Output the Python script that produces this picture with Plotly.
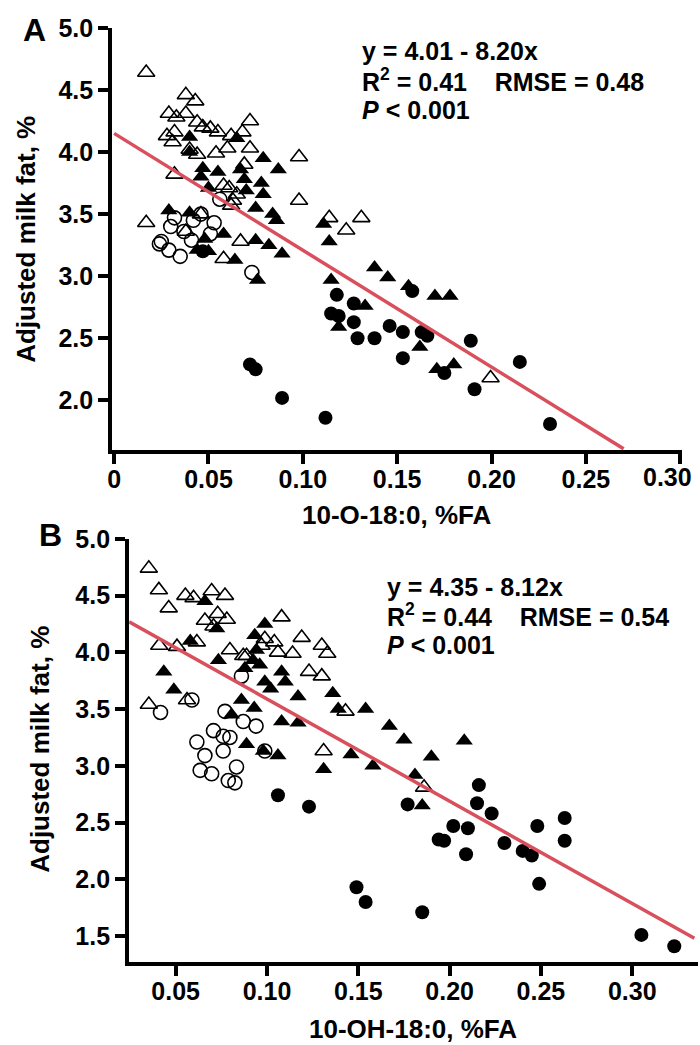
import plotly.graph_objects as go

# ---------------- Panel A data (10-O-18:0, %FA vs adjusted milk fat) ----------------
a_open_tri_x = [0.017, 0.038, 0.043, 0.029, 0.033, 0.038, 0.044, 0.047, 0.051, 0.055, 0.028, 0.031, 0.032,
                0.072, 0.062, 0.068, 0.072, 0.060, 0.054, 0.040, 0.044, 0.098, 0.032, 0.069, 0.061, 0.098,
                0.017, 0.114, 0.123, 0.131, 0.067, 0.058, 0.063, 0.046, 0.038, 0.1995, 0.058, 0.065, 0.062]
a_open_tri_y = [4.64, 4.46, 4.41, 4.31, 4.28, 4.31, 4.24, 4.20, 4.19, 4.16, 4.13, 4.08, 4.16,
                4.25, 4.13, 4.16, 4.03, 4.03, 3.99, 4.02, 3.98, 3.96, 3.82, 3.90, 3.71, 3.61,
                3.43, 3.47, 3.37, 3.47, 3.28, 3.14, 3.61, 3.50, 3.36, 2.18, 3.73, 3.66, 3.57]

a_open_cir_x = [0.032, 0.046, 0.053, 0.030, 0.037, 0.025, 0.029, 0.035, 0.041, 0.051, 0.024, 0.073, 0.056, 0.042]
a_open_cir_y = [3.47, 3.50, 3.43, 3.40, 3.36, 3.28, 3.21, 3.16, 3.29, 3.34, 3.26, 3.03, 3.62, 3.45]

a_fill_tri_x = [0.040, 0.040, 0.065, 0.079, 0.087, 0.047, 0.046, 0.055, 0.067, 0.069, 0.078, 0.070, 0.079,
                0.050, 0.075, 0.084, 0.086, 0.029, 0.040, 0.048, 0.058, 0.075, 0.082, 0.089, 0.064, 0.044,
                0.050, 0.076, 0.111, 0.114, 0.115, 0.138, 0.145, 0.156, 0.170, 0.178, 0.133, 0.119, 0.162,
                0.171, 0.180]
a_fill_tri_y = [4.12, 4.00, 4.11, 3.95, 3.86, 3.87, 3.80, 3.84, 3.86, 3.78, 3.75, 3.69, 3.66,
                3.71, 3.55, 3.50, 3.45, 3.53, 3.51, 3.30, 3.34, 3.29, 3.25, 3.18, 3.13, 3.21,
                3.20, 2.97, 3.42, 3.28, 2.97, 3.07, 2.99, 2.92, 2.84, 2.84, 2.76, 2.59, 2.43,
                2.25, 2.29]

a_fill_cir_x = [0.118, 0.127, 0.119, 0.127, 0.129, 0.138, 0.146, 0.153, 0.163, 0.166, 0.153, 0.189, 0.215,
                0.191, 0.231, 0.158, 0.175, 0.072, 0.075, 0.089, 0.112, 0.115, 0.047]
a_fill_cir_y = [2.85, 2.78, 2.68, 2.63, 2.50, 2.50, 2.60, 2.55, 2.55, 2.52, 2.34, 2.48, 2.31,
                2.09, 1.81, 2.88, 2.22, 2.29, 2.25, 2.02, 1.86, 2.70, 3.20]

a_fit_x = [0.0, 0.270]
a_fit_y = [4.15, 1.61]

# the last tick label of panel A is nudged left in the original, so it is drawn separately
a_xticks = [0, 0.05, 0.10, 0.15, 0.20, 0.25, 0.30]
a_xticklabels = ["0", "0.05", "0.10", "0.15", "0.20", "0.25", ""]
a_last_xticklabel = "0.30"
a_yticks = [2.0, 2.5, 3.0, 3.5, 4.0, 4.5, 5.0]
a_yticklabels = ["2.0", "2.5", "3.0", "3.5", "4.0", "4.5", "5.0"]

# ---------------- Panel B data (10-OH-18:0, %FA vs adjusted milk fat) ----------------
b_open_tri_x = [0.0353, 0.0408, 0.0462, 0.0553, 0.0598, 0.0697, 0.077, 0.066, 0.073, 0.078, 0.0707, 0.108,
                0.041, 0.0507, 0.0616, 0.0797, 0.0888, 0.0988, 0.104, 0.106, 0.114, 0.119, 0.130, 0.133,
                0.123, 0.130, 0.0353, 0.0562, 0.143, 0.131, 0.097, 0.087, 0.186]
b_open_tri_y = [4.74, 4.55, 4.39, 4.50, 4.48, 4.54, 4.50, 4.28, 4.34, 4.29, 4.23, 4.31,
                4.06, 4.05, 4.09, 4.02, 3.97, 4.12, 4.09, 4.00, 3.99, 4.13, 4.06, 3.99,
                3.83, 3.79, 3.54, 3.58, 3.48, 3.13, 4.06, 3.97, 2.81]

b_open_cir_x = [0.0417, 0.0589, 0.077, 0.087, 0.094, 0.0707, 0.076, 0.0797, 0.0616, 0.076, 0.066, 0.0634,
                0.0697, 0.0833, 0.0788, 0.0824, 0.0988, 0.086]
b_open_cir_y = [3.47, 3.58, 3.48, 3.39, 3.35, 3.31, 3.26, 3.25, 3.21, 3.13, 3.09, 2.96,
                2.93, 2.99, 2.87, 2.85, 3.13, 3.79]

b_fill_tri_x = [0.066, 0.0988, 0.0933, 0.058, 0.0725, 0.0734, 0.0942, 0.0924, 0.096, 0.0879, 0.108, 0.0988,
                0.110, 0.102, 0.117, 0.136, 0.0435, 0.049, 0.086, 0.093, 0.0806, 0.139, 0.154, 0.108,
                0.117, 0.0888, 0.098, 0.106, 0.146, 0.131, 0.158, 0.167, 0.175, 0.208, 0.190, 0.181,
                0.185]
b_fill_tri_y = [4.45, 4.25, 4.15, 4.10, 4.21, 3.93, 4.02, 3.93, 3.89, 3.86, 3.83, 3.74,
                3.74, 3.68, 3.61, 3.64, 3.83, 3.67, 3.58, 3.51, 3.45, 3.50, 3.50, 3.39,
                3.38, 3.19, 3.13, 3.09, 3.10, 2.97, 3.00, 3.35, 3.23, 3.22, 3.08, 2.92,
                2.65]

b_fill_cir_x = [0.106, 0.123, 0.177, 0.216, 0.215, 0.223, 0.202, 0.210, 0.194, 0.197, 0.209, 0.230, 0.248,
                0.240, 0.245, 0.149, 0.154, 0.185, 0.249, 0.263, 0.263, 0.305, 0.323]
b_fill_cir_y = [2.74, 2.64, 2.66, 2.83, 2.67, 2.58, 2.47, 2.45, 2.35, 2.34, 2.22, 2.32, 2.47,
                2.25, 2.21, 1.93, 1.80, 1.71, 1.96, 2.54, 2.34, 1.51, 1.41]

b_fit_x = [0.0245, 0.334]
b_fit_y = [4.27, 1.48]

b_xticks = [0.05, 0.10, 0.15, 0.20, 0.25, 0.30]
b_xticklabels = ["0.05", "0.10", "0.15", "0.20", "0.25", "0.30"]
b_yticks = [1.5, 2.0, 2.5, 3.0, 3.5, 4.0, 4.5, 5.0]
b_yticklabels = ["1.5", "2.0", "2.5", "3.0", "3.5", "4.0", "4.5", "5.0"]

a_stats = ["y = 4.01 - 8.20x", "R<sup>2</sup> = 0.41\u00a0\u00a0\u00a0 RMSE = 0.48", "<i>P</i> < 0.001"]
b_stats = ["y = 4.35 - 8.12x", "R<sup>2</sup> = 0.44\u00a0\u00a0\u00a0 RMSE = 0.54", "<i>P</i> < 0.001"]

# ---------------- Figure ----------------
W, H = 700, 1045
FONT = "Liberation Sans, Arial, sans-serif"
RED = "#d94f5c"

fig = go.Figure()


def add_panel(fig, xa, ya, otx, oty, ocx, ocy, ftx, fty, fcx, fcy, fitx, fity):
    fig.add_trace(go.Scatter(x=otx, y=oty, mode="markers", xaxis=xa, yaxis=ya,
                             marker=dict(symbol="triangle-up-open", size=15, color="black",
                                         line=dict(width=1.6, color="black")), showlegend=False))
    fig.add_trace(go.Scatter(x=ocx, y=ocy, mode="markers", xaxis=xa, yaxis=ya,
                             marker=dict(symbol="circle-open", size=14, color="black",
                                         line=dict(width=1.6, color="black")), showlegend=False))
    fig.add_trace(go.Scatter(x=ftx, y=fty, mode="markers", xaxis=xa, yaxis=ya,
                             marker=dict(symbol="triangle-up", size=15, color="black"), showlegend=False))
    fig.add_trace(go.Scatter(x=fcx, y=fcy, mode="markers", xaxis=xa, yaxis=ya,
                             marker=dict(symbol="circle", size=14, color="black"), showlegend=False))
    fig.add_trace(go.Scatter(x=fitx, y=fity, mode="lines", xaxis=xa, yaxis=ya,
                             line=dict(color=RED, width=3.5), showlegend=False))


add_panel(fig, "x", "y", a_open_tri_x, a_open_tri_y, a_open_cir_x, a_open_cir_y,
          a_fill_tri_x, a_fill_tri_y, a_fill_cir_x, a_fill_cir_y, a_fit_x, a_fit_y)
add_panel(fig, "x2", "y2", b_open_tri_x, b_open_tri_y, b_open_cir_x, b_open_cir_y,
          b_fill_tri_x, b_fill_tri_y, b_fill_cir_x, b_fill_cir_y, b_fit_x, b_fit_y)

TICK_SIZE = 25
tickfont = dict(family=FONT, size=TICK_SIZE, color="black", weight="bold")
axis_common = dict(showline=True, linewidth=4, linecolor="black", ticks="outside", ticklen=10,
                   tickwidth=3.5, tickcolor="black", showgrid=False, zeroline=False,
                   tickfont=tickfont, fixedrange=True)


def px_x(p):
    return p / W


def px_y(p):
    return 1 - p / H


fig.update_layout(
    width=W, height=H,
    margin=dict(l=0, r=0, t=0, b=0),
    paper_bgcolor="white", plot_bgcolor="white",
    xaxis=dict(domain=[px_x(108), px_x(682)], range=[-0.001, 0.301], anchor="y",
               tickvals=a_xticks, ticktext=a_xticklabels, ticklabelstandoff=-6, **axis_common),
    yaxis=dict(domain=[px_y(442), px_y(14)], range=[1.6, 5.0], anchor="x",
               tickvals=a_yticks, ticktext=a_yticklabels, **axis_common),
    xaxis2=dict(domain=[px_x(125), px_x(698)], range=[0.0245, 0.336], anchor="y2",
                tickvals=b_xticks, ticktext=b_xticklabels, ticklabelstandoff=-6, **axis_common),
    yaxis2=dict(domain=[px_y(961), px_y(532)], range=[1.27, 5.0], anchor="x2",
                tickvals=b_yticks, ticktext=b_yticklabels, **axis_common),
)

title_font = dict(family=FONT, size=26, color="black", weight="bold")
stat_font = dict(family=FONT, size=25, color="black", weight="bold")

annotations = [
    # panel letters
    dict(text="A", x=px_x(30), y=px_y(16), font=dict(family=FONT, size=32, color="black", weight="bold")),
    dict(text="B", x=px_x(46), y=px_y(528), font=dict(family=FONT, size=32, color="black", weight="bold")),
    # last x tick label of panel A (kept inside the figure, as in the original)
    dict(text=a_last_xticklabel, x=px_x(667), y=px_y(469), font=tickfont),
    # axis titles
    dict(text="10-O-18:0, %FA", x=px_x(395), y=px_y(508), font=title_font),
    dict(text="Adjusted milk fat, %", x=px_x(21), y=px_y(228), textangle=-90, font=title_font),
    dict(text="10-OH-18:0, %FA", x=px_x(411), y=px_y(1029), font=title_font),
    dict(text="Adjusted milk fat, %", x=px_x(35), y=px_y(745), textangle=-90, font=title_font),
]
for t, yy in zip(a_stats, [38, 67, 97]):
    annotations.append(dict(text=t, x=px_x(358), y=px_y(yy), xanchor="left", font=stat_font))
for t, yy in zip(b_stats, [581, 609, 640]):
    annotations.append(dict(text=t, x=px_x(383), y=px_y(yy), xanchor="left", font=stat_font))

for a in annotations:
    a.setdefault("xanchor", "center")
    a.update(xref="paper", yref="paper", yanchor="middle", showarrow=False)

fig.update_layout(annotations=annotations)

fig.write_html("out.html")
